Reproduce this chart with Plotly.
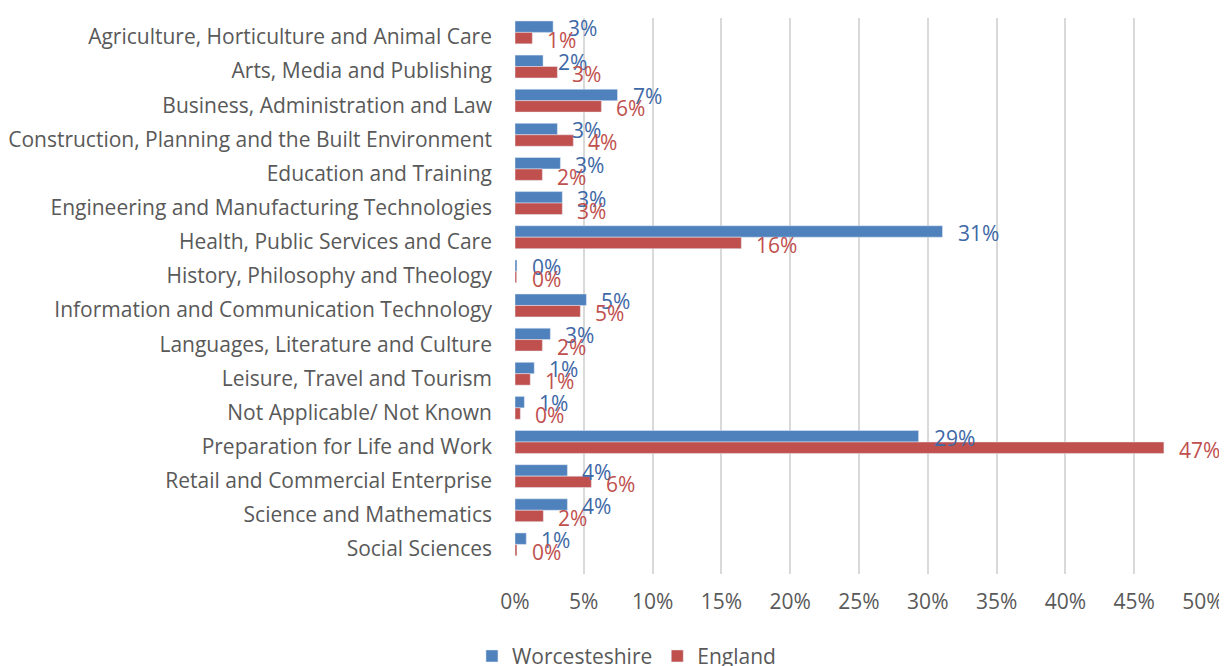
import plotly.graph_objects as go

categories = [
    "Agriculture, Horticulture and Animal Care",
    "Arts, Media and Publishing",
    "Business, Administration and Law",
    "Construction, Planning and the Built Environment",
    "Education and Training",
    "Engineering and Manufacturing Technologies",
    "Health, Public Services and Care",
    "History, Philosophy and Theology",
    "Information and Communication Technology",
    "Languages, Literature and Culture",
    "Leisure, Travel and Tourism",
    "Not Applicable/ Not Known",
    "Preparation for Life and Work",
    "Retail and Commercial Enterprise",
    "Science and Mathematics",
    "Social Sciences",
]
worcs = [0.0277, 0.0204, 0.0745, 0.0308, 0.0330, 0.0344, 0.3107, 0.0014,
         0.0519, 0.0257, 0.0140, 0.0068, 0.2933, 0.0381, 0.0381, 0.0082]
england = [0.0126, 0.0308, 0.0628, 0.0424, 0.0199, 0.0344, 0.1645, 0.0012,
           0.0475, 0.0199, 0.0111, 0.0039, 0.4716, 0.0555, 0.0206, 0.0014]
x_ticks = [0, 0.05, 0.10, 0.15, 0.20, 0.25, 0.30, 0.35, 0.40, 0.45, 0.50]

BLUE = "#4f81bd"
RED = "#c0504d"
BLUE_TXT = "#3e68a6"
GRAY = "#595959"
FONT = "Open Sans"
FS = 21

fig = go.Figure()
fig.add_trace(go.Bar(y=categories, x=worcs, orientation="h", name="Worcesteshire",
                     marker_color=BLUE, width=0.335, offset=-0.47))
fig.add_trace(go.Bar(y=categories, x=england, orientation="h", name="England",
                     marker_color=RED, width=0.335, offset=-0.135))

for c, v in zip(categories, worcs):
    fig.add_annotation(x=v, y=c, text=f"{round(v*100):.0f}%", showarrow=False,
                       xanchor="left", xshift=13, yshift=9,
                       font=dict(family=FONT, size=FS, color=BLUE_TXT))
for c, v in zip(categories, england):
    fig.add_annotation(x=v, y=c, text=f"{round(v*100):.0f}%", showarrow=False,
                       xanchor="left", xshift=13, yshift=-3,
                       font=dict(family=FONT, size=FS, color=RED))

# page body has an 8px margin, so the figure is laid out 8px up/left
fig.update_layout(
    width=1227, height=666,
    margin=dict(l=507, r=32, t=10, b=100, autoexpand=False),
    barmode="overlay",
    plot_bgcolor="white", paper_bgcolor="white",
    font=dict(family=FONT, size=FS, color=GRAY),
    legend=dict(orientation="h", x=0.162, xanchor="center", y=-0.148, yanchor="middle",
                font=dict(family=FONT, size=FS, color=GRAY), traceorder="normal"),
)
fig.update_xaxes(range=[0, 0.5], tickvals=x_ticks, tickformat=".0%",
                 showgrid=True, gridcolor="#d9d9d9", gridwidth=2,
                 zeroline=False, showline=False, ticks="", ticklabelstandoff=13,
                 automargin=False,
                 tickfont=dict(family=FONT, size=FS, color=GRAY))
fig.update_yaxes(categoryorder="array", categoryarray=categories,
                 autorange="reversed", showgrid=False, zeroline=False,
                 showline=False, ticks="", ticklabelstandoff=22, automargin=False,
                 tickfont=dict(family=FONT, size=FS, color=GRAY))

fig.write_html("out.html")
